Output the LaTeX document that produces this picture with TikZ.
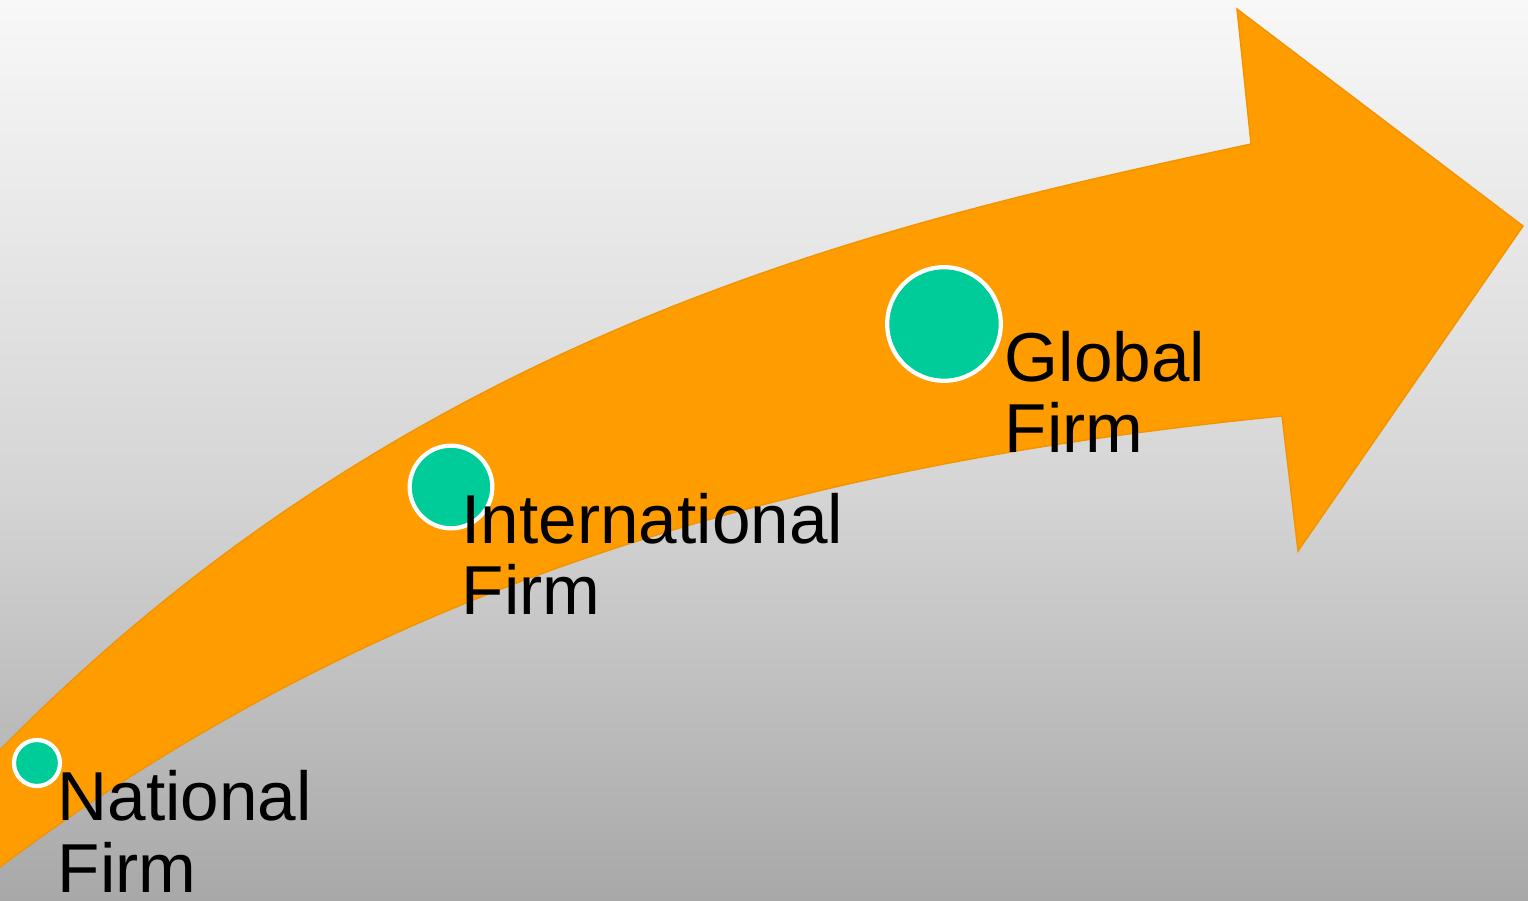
\documentclass[tikz,border=0pt]{standalone}
\usepackage{fontspec}
\setmainfont{Liberation Sans}
\usetikzlibrary{positioning}
\definecolor{bgtop}{HTML}{F8F8F8}
\definecolor{bgmid}{HTML}{D4D4D4}
\definecolor{bgbot}{HTML}{A8A8A8}
\definecolor{arrowor}{HTML}{FF9C00}
\definecolor{dotgreen}{HTML}{00CC99}
\begin{document}
\begin{tikzpicture}[x=0.01cm,y=-0.01cm,
		dot/.style={draw=white,fill=dotgreen,circle,line width=1.2pt,inner sep=0pt},
		firm/.style={anchor=base west,inner sep=0pt,align=left,font=\fontsize{19.7}{20.2}\selectfont}]
		\useasboundingbox (0,0) rectangle (1528,901);
		\shade[top color=bgtop,bottom color=bgmid] (0,0) rectangle (1528,500);
		\shade[top color=bgmid,bottom color=bgbot] (0,499) rectangle (1528,901);
		\fill[arrowor,draw=arrowor!95!black,line width=0.4pt] (-15,766) -- (0,750) .. controls (420,322) and (900,220) .. (1251,144)
			-- (1237,9) -- (1523,226) -- (1298,551) -- (1282,416)
			.. controls (832,461) and (400,567) .. (0,867) -- (-15,878) -- cycle;
		\node[dot,minimum size=0.46cm] (natDot) at (37,763) {};
		\node[dot,minimum size=0.826cm] (intDot) at (451,487) {};
		\node[dot,minimum size=1.136cm] (globDot) at (944,324) {};
		\node[firm] (natLbl) at (57,892) {National\\Firm};
		\node[firm] (intLbl) at (461,615) {International\\Firm};
		\node[firm] (globLbl) at (1004,453) {Global\\Firm};
	\end{tikzpicture}
\end{document}
